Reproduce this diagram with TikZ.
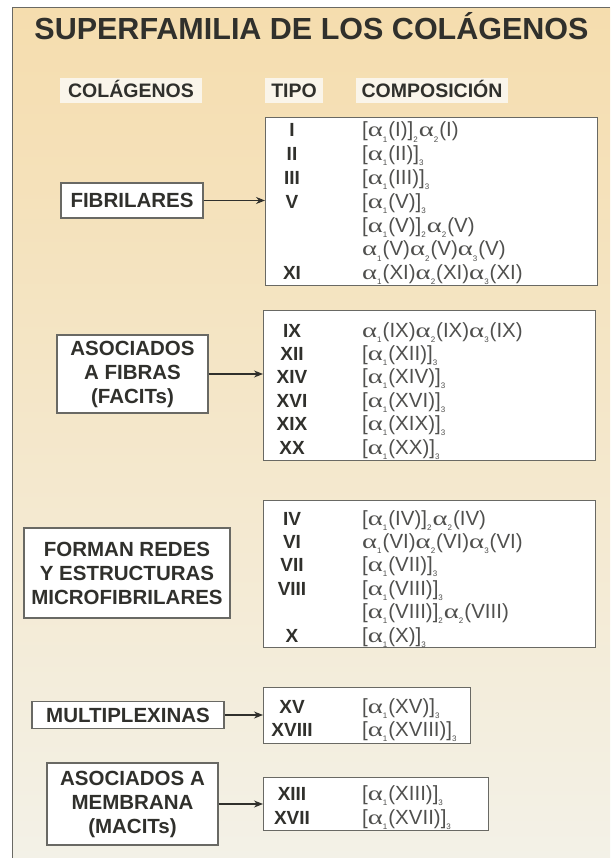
\documentclass[tikz,border=0pt]{standalone}
\usepackage{fontspec}
\usepackage{graphicx}
\usetikzlibrary{arrows.meta}
\setmainfont{Liberation Sans}
\newfontfamily\grk{Liberation Serif}
\newcommand\ix[1]{\raisebox{-.25em}{\fontsize{8}{8}\selectfont#1}\kern1pt}
\newcommand\al[1]{\scalebox{1.4}[1]{\grk α}\ix{#1}}
\definecolor{paneltop}{RGB}{245,221,174}
\definecolor{panelmid}{RGB}{243,233,200}
\definecolor{panelbot}{RGB}{243,241,231}
\definecolor{headbg}{RGB}{250,245,234}
\definecolor{ink}{RGB}{48,48,44}
\definecolor{inkcomp}{RGB}{80,80,78}
\definecolor{edge}{RGB}{105,105,100}
\begin{document}
\begin{tikzpicture}[x=1pt, y=-1pt, >={Stealth[length=9pt,width=7pt]},
    lbl/.style={draw=edge, fill=white, line width=1.1pt, inner sep=0pt, align=center, text=ink, font=\bfseries\fontsize{20.5}{24}\selectfont},
    caja/.style={draw=edge, fill=white, line width=1.1pt, inner sep=0pt, anchor=north west},
    head/.style={fill=headbg, inner sep=0pt, text height=14.5pt, text depth=0pt, text=ink, font=\bfseries\fontsize{19.5}{20}\selectfont},
    tipo/.style={anchor=base, inner sep=0pt, text=ink, font=\bfseries\fontsize{19}{19}\selectfont},
    comp/.style={anchor=base west, inner sep=0pt, text height=14pt, text depth=3pt, text=inkcomp, font=\fontsize{20.5}{20.5}\selectfont},
    arr/.style={->, draw=ink, line width=1.2pt}]

    \useasboundingbox (0,0) rectangle (610,858);
    \fill[white] (0,0) rectangle (610,858);
    \shade[top color=paneltop, middle color=panelmid, bottom color=panelbot] (12,7.5) rectangle (610,858);
    \draw[edge, line width=1pt] (12,858) -- (12,7.5) -- (610,7.5);

    \node[text=ink, font=\bfseries\fontsize{30.5}{30}\selectfont] (title) at (311.5,26) {SUPERFAMILIA DE LOS COLÁGENOS};

    \node[head, minimum width=142, minimum height=25] (hcol) at (131,90.5) {COLÁGENOS};
    \node[head, minimum width=58, minimum height=25] (htipo) at (294,90.5) {TIPO};
    \node[head, minimum width=152, minimum height=25] (hcomp) at (432,90.5) {COMPOSICIÓN};

    \node[lbl, minimum width=142, minimum height=35] (fib) at (132,200.5) {FIBRILARES};
    \node[lbl, minimum width=151, minimum height=78] (facit) at (132.5,374) {ASOCIADOS\\A FIBRAS\\(FACITs)};
    \node[lbl, minimum width=206, minimum height=90] (redes) at (127,573) {FORMAN REDES\\Y ESTRUCTURAS\\MICROFIBRILARES};
    \node[lbl, minimum width=192, minimum height=27] (multi) at (128,715) {MULTIPLEXINAS};
    \node[lbl, minimum width=171, minimum height=82] (macit) at (132.5,804) {ASOCIADOS A\\MEMBRANA\\(MACITs)};

    \node[caja, minimum width=332, minimum height=168] (cfib) at (265,117) {};
    \node[caja, minimum width=332, minimum height=150] (cfacit) at (263,310) {};
    \node[caja, minimum width=332, minimum height=147] (credes) at (263,500) {};
    \node[caja, minimum width=207, minimum height=56] (cmulti) at (263,687) {};
    \node[caja, minimum width=225, minimum height=53] (cmacit) at (263,777) {};

    \foreach \tp/\cmp [count=\i from 0] in {I/{[\al1(I)]\ix2\al2(I)}, II/{[\al1(II)]\ix3}, III/{[\al1(III)]\ix3}, V/{[\al1(V)]\ix3}, /{[\al1(V)]\ix2\al2(V)}, /{\al1(V)\al2(V)\al3(V)}, XI/{\al1(XI)\al2(XI)\al3(XI)}}{
        \node[tipo] (tfib\i) at (292,137+23.8*\i) {\tp};
        \node[comp] (kfib\i) at (362,137+23.8*\i) {\cmp};
    }
    \foreach \tp/\cmp [count=\i from 0] in {IX/{\al1(IX)\al2(IX)\al3(IX)}, XII/{[\al1(XII)]\ix3}, XIV/{[\al1(XIV)]\ix3}, XVI/{[\al1(XVI)]\ix3}, XIX/{[\al1(XIX)]\ix3}, XX/{[\al1(XX)]\ix3}}{
        \node[tipo] (tfacit\i) at (292,337+23.4*\i) {\tp};
        \node[comp] (kfacit\i) at (362,337+23.4*\i) {\cmp};
    }
    \foreach \tp/\cmp [count=\i from 0] in {IV/{[\al1(IV)]\ix2\al2(IV)}, VI/{\al1(VI)\al2(VI)\al3(VI)}, VII/{[\al1(VII)]\ix3}, VIII/{[\al1(VIII)]\ix3}, /{[\al1(VIII)]\ix2\al2(VIII)}, X/{[\al1(X)]\ix3}}{
        \node[tipo] (tredes\i) at (292,525+23.4*\i) {\tp};
        \node[comp] (kredes\i) at (362,525+23.4*\i) {\cmp};
    }
    \foreach \tp/\cmp [count=\i from 0] in {XV/{[\al1(XV)]\ix3}, XVIII/{[\al1(XVIII)]\ix3}}{
        \node[tipo] (tmulti\i) at (292,713+23*\i) {\tp};
        \node[comp] (kmulti\i) at (362,713+23*\i) {\cmp};
    }
    \foreach \tp/\cmp [count=\i from 0] in {XIII/{[\al1(XIII)]\ix3}, XVII/{[\al1(XVII)]\ix3}}{
        \node[tipo] (tmacit\i) at (292,800+24*\i) {\tp};
        \node[comp] (kmacit\i) at (362,800+24*\i) {\cmp};
    }

    \draw[arr] (fib) -- (fib -| cfib.west);
    \draw[arr] (facit) -- (facit -| cfacit.west);
    \draw[arr] (multi) -- (multi -| cmulti.west);
    \draw[arr] (macit) -- (macit -| cmacit.west);

\end{tikzpicture}
\end{document}
